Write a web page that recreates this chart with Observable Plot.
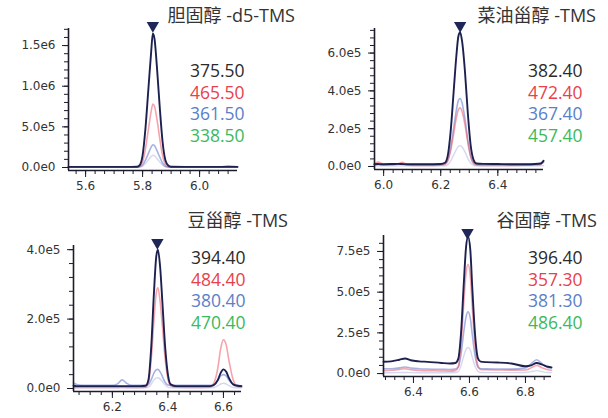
<!DOCTYPE html>
<html><head><meta charset="utf-8">
<script src="https://cdn.jsdelivr.net/npm/d3@7"></script>
<script src="https://cdn.jsdelivr.net/npm/@observablehq/plot@0.6"></script>
<style>
html,body{margin:0;padding:0;background:#fff;}
#root{position:relative;width:608px;height:418px;overflow:hidden;background:#fff;}
.panel{position:absolute;width:304px;height:209px;}
.title{position:absolute;font-family:"Open Sans","Noto Sans CJK SC",sans-serif;font-size:18px;line-height:20px;color:#333;white-space:nowrap;}
.legend{position:absolute;font-family:"Open Sans",sans-serif;font-size:17.5px;line-height:21.7px;white-space:nowrap;}
</style></head><body><div id="root"></div>
<script>
// ---------- data ----------
const titles = ["胆固醇 -d5-TMS", "菜油甾醇 -TMS", "豆甾醇 -TMS", "谷固醇 -TMS"];
const ions1 = ["375.50", "465.50", "361.50", "338.50"];
const ions2 = ["382.40", "472.40", "367.40", "457.40"];
const ions3 = ["394.40", "484.40", "380.40", "470.40"];
const ions4 = ["396.40", "357.30", "381.30", "486.40"];
const peakRT = [5.836, 6.268, 6.362, 6.593];

const xTicks1 = [5.6, 5.8, 6.0];
const xTicks2 = [6.0, 6.2, 6.4];
const xTicks3 = [6.2, 6.4, 6.6];
const xTicks4 = [6.4, 6.6, 6.8];
const yTicks1 = [0, 5e5, 1e6, 1.5e6];
const yTicks2 = [0, 2e5, 4e5, 6e5];
const yTicks3 = [0, 2e5, 4e5];
const yTicks4 = [0, 2.5e5, 5e5, 7.5e5];

// panel 1
const t1 = [5.54, 5.60, 5.70, 5.76, 5.78, 5.79, 5.80, 5.81, 5.82, 5.83, 5.836, 5.842, 5.85, 5.86, 5.87, 5.88, 5.89, 5.90, 5.95, 6.00, 6.05, 6.08, 6.10, 6.12, 6.133];
const k1 = [8e3, 8e3, 8e3, 8e3, 1e4, 3e4, 1.5e5, 4.8e5, 9.5e5, 1.42e6, 1.65e6, 1.58e6, 1.25e6, 7.5e5, 3.2e5, 9e4, 2.5e4, 1e4, 8e3, 8e3, 8e3, 8e3, 8e3, 8e3, 8e3];
const r1 = [3e3, 3e3, 3e3, 3e3, 5e3, 1.5e4, 7e4, 2.3e5, 4.6e5, 6.9e5, 7.8e5, 7.5e5, 6e5, 3.6e5, 1.5e5, 4e4, 1e4, 4e3, 3e3, 3e3, 3e3, 3e3, 3e3, 3e3, 3e3];
const b1 = [5e3, 5e3, 5e3, 5e3, 6e3, 1e4, 3e4, 9e4, 1.7e5, 2.5e5, 2.8e5, 2.7e5, 2.1e5, 1.3e5, 5.5e4, 1.6e4, 7e3, 5e3, 5e3, 5e3, 5e3, 8e3, 2e4, 1.5e4, 1e4];
const g1 = [2e3, 2e3, 2e3, 2e3, 3e3, 5e3, 1.6e4, 5e4, 9e4, 1.35e5, 1.5e5, 1.45e5, 1.1e5, 7e4, 3e4, 9e3, 4e3, 2e3, 2e3, 2e3, 2e3, 2e3, 2e3, 2e3, 2e3];

// panel 2
const t2 = [5.968, 5.98, 5.99, 6.00, 6.03, 6.05, 6.065, 6.08, 6.10, 6.15, 6.20, 6.215, 6.225, 6.235, 6.245, 6.255, 6.262, 6.268, 6.275, 6.285, 6.295, 6.305, 6.315, 6.325, 6.35, 6.40, 6.45, 6.50, 6.53, 6.55, 6.56];
const k2 = [1.2e4, 1.3e4, 1.2e4, 1.2e4, 1.3e4, 1.4e4, 1.3e4, 1.2e4, 1.2e4, 1.2e4, 1.3e4, 2e4, 6e4, 1.9e5, 3.9e5, 5.9e5, 6.9e5, 7.1e5, 6.6e5, 5e5, 2.8e5, 1.1e5, 3.5e4, 1.6e4, 1.4e4, 1.3e4, 1.2e4, 1.2e4, 1.3e4, 1.6e4, 3e4];
const r2 = [1.5e4, 2.3e4, 1.8e4, 1e4, 8e3, 1.2e4, 2.2e4, 1.2e4, 6e3, 6e3, 7e3, 1e4, 3e4, 8.5e4, 1.7e5, 2.6e5, 3e5, 3.1e5, 2.9e5, 2.2e5, 1.25e5, 5e4, 1.5e4, 7e3, 6e3, 6e3, 6e3, 7e3, 8e3, 1e4, 2.2e4];
const b2 = [1e4, 1.1e4, 1e4, 1e4, 1.1e4, 1.2e4, 1.1e4, 1e4, 1e4, 1e4, 1.1e4, 1.5e4, 3.5e4, 1e5, 2e5, 3e5, 3.5e5, 3.6e5, 3.35e5, 2.5e5, 1.4e5, 5.5e4, 2e4, 1.2e4, 1.1e4, 1e4, 1e4, 1e4, 1.1e4, 1.3e4, 2.5e4];
const g2 = [3e3, 3e3, 3e3, 3e3, 3e3, 3e3, 3e3, 3e3, 3e3, 3e3, 3e3, 4e3, 1e4, 3e4, 6e4, 9e4, 1.07e5, 1.1e5, 1.03e5, 7.7e4, 4.3e4, 1.7e4, 6e3, 3e3, 3e3, 3e3, 3e3, 3e3, 3e3, 3e3, 4e3];

// panel 3
const t3 = [6.06, 6.07, 6.08, 6.10, 6.15, 6.20, 6.22, 6.235, 6.25, 6.27, 6.30, 6.32, 6.33, 6.34, 6.35, 6.358, 6.364, 6.372, 6.38, 6.39, 6.40, 6.41, 6.43, 6.50, 6.55, 6.565, 6.58, 6.59, 6.60, 6.61, 6.62, 6.635, 6.65, 6.665];
const k3 = [8e3, 7e3, 7e3, 7e3, 7e3, 7e3, 7e3, 7e3, 7e3, 7e3, 7e3, 8e3, 2.5e4, 1.2e5, 2.8e5, 3.8e5, 4e5, 3.5e5, 2.5e5, 1.2e5, 4e4, 1.2e4, 7e3, 7e3, 7e3, 1e4, 2.5e4, 4.5e4, 5.5e4, 4.8e4, 3e4, 1.2e4, 8e3, 7e3];
const r3 = [3e3, 3e3, 3e3, 3e3, 3e3, 3e3, 3e3, 3e3, 3e3, 3e3, 3e3, 4e3, 1.8e4, 8.5e4, 2e5, 2.75e5, 2.9e5, 2.5e5, 1.8e5, 8.5e4, 2.8e4, 8e3, 4e3, 3e3, 4e3, 1.5e4, 6e4, 1.15e5, 1.4e5, 1.25e5, 8e4, 2.5e4, 6e3, 4e3];
const b3 = [1.6e4, 1.2e4, 1e4, 9e3, 9e3, 9e3, 1.4e4, 2.5e4, 1.6e4, 9e3, 9e3, 9e3, 1.2e4, 2.6e4, 4.5e4, 5.4e4, 5.5e4, 4.8e4, 3.5e4, 1.8e4, 1e4, 9e3, 9e3, 9e3, 9e3, 1.2e4, 2.4e4, 3.6e4, 4e4, 3.6e4, 2.4e4, 1.2e4, 9e3, 8e3];
const g3 = [2e3, 2e3, 2e3, 2e3, 2e3, 2e3, 2e3, 3e3, 2e3, 2e3, 2e3, 2e3, 4e3, 1.3e4, 2.5e4, 3e4, 3.1e4, 2.7e4, 2e4, 1e4, 4e3, 2e3, 2e3, 2e3, 2e3, 3e3, 8e3, 1.3e4, 1.5e4, 1.3e4, 8e3, 3e3, 2e3, 2e3];

// panel 4
const t4 = [6.293, 6.32, 6.35, 6.37, 6.39, 6.42, 6.45, 6.50, 6.53, 6.55, 6.56, 6.57, 6.58, 6.588, 6.595, 6.603, 6.61, 6.62, 6.63, 6.64, 6.66, 6.70, 6.75, 6.80, 6.82, 6.84, 6.86, 6.88, 6.893];
const k4 = [7.3e4, 7.5e4, 8.5e4, 9.3e4, 8.2e4, 7.5e4, 7.2e4, 6.5e4, 6.2e4, 6.5e4, 9e4, 2.5e5, 5.6e5, 7.8e5, 8.4e5, 7.6e5, 5.3e5, 2.4e5, 9.5e4, 7.3e4, 7e4, 6.8e4, 6.2e4, 4.5e4, 5e4, 6.5e4, 5.5e4, 4.2e4, 3.8e4];
const r4 = [1.8e4, 2e4, 2.6e4, 3e4, 2.4e4, 1.9e4, 1.8e4, 1.6e4, 1.5e4, 1.8e4, 4e4, 1.8e5, 4.4e5, 6.2e5, 6.7e5, 6e5, 4.1e5, 1.7e5, 5e4, 2.5e4, 2.3e4, 2.2e4, 2.1e4, 2.2e4, 3.5e4, 5e4, 3.5e4, 2.3e4, 2e4];
const b4 = [3e4, 3e4, 3.5e4, 4e4, 3.4e4, 3e4, 2.8e4, 2.6e4, 2.5e4, 2.8e4, 4e4, 1.2e5, 2.6e5, 3.5e5, 3.8e5, 3.4e5, 2.4e5, 1.1e5, 4e4, 3e4, 2.9e4, 2.8e4, 2.7e4, 3.5e4, 6e4, 8.5e4, 6e4, 3.8e4, 3.3e4];
const g4 = [5e3, 5e3, 6e3, 7e3, 6e3, 5e3, 5e3, 5e3, 5e3, 6e3, 1.2e4, 5e4, 1.1e5, 1.5e5, 1.6e5, 1.45e5, 1e5, 4.5e4, 1.5e4, 7e3, 6e3, 6e3, 6e3, 7e3, 1.2e4, 1.8e4, 1.2e4, 7e3, 6e3];

// ---------- styling / layout ----------
const legendColors = ["#2b2b2b", "#e8414b", "#5b80c8", "#3cb95c"];
const traceStyles = [
  {stroke: "#1d2150", strokeWidth: 1.9, strokeOpacity: 1},
  {stroke: "#ec5a66", strokeWidth: 1.6, strokeOpacity: 0.55},
  {stroke: "#6b7fd0", strokeWidth: 1.6, strokeOpacity: 0.6},
  {stroke: "#b9bfe6", strokeWidth: 1.4, strokeOpacity: 0.6}
];

const panels = [
  {left: 0, top: 0, m: [28, 67, 39, 68], xd: [5.54, 6.133], yd: [-3.7e4, 1.71e6], xt: xTicks1, yt: yTicks1, ys: 1e5, xs: 0.2 / 6, t: t1, s: [k1, r1, b1, g1], ions: ions1, lg: [190, 60], tr: [313, 5]},
  {left: 304, top: 0, m: [28, 65, 40, 70], xd: [5.968, 6.56], yd: [-1.6e4, 7.3e5], xt: xTicks2, yt: yTicks2, ys: 4e4, xs: 0.2 / 6, t: t2, s: [k2, r2, b2, g2], ions: ions2, lg: [528, 60], tr: [12, 5]},
  {left: 0, top: 209, m: [36, 63, 27, 73], xd: [6.06, 6.665], yd: [-8.6e3, 4.12e5], xt: xTicks3, yt: yTicks3, ys: 4e4, xs: 0.04, t: t3, s: [k3, r3, b3, g3], ions: ions3, lg: [191, 247], tr: [320, 210]},
  {left: 304, top: 209, m: [26, 57, 42, 79], xd: [6.293, 6.893], yd: [-1.8e4, 8.48e5], xt: xTicks4, yt: yTicks4, ys: 5e4, xs: 0.2 / 6, t: t4, s: [k4, r4, b4, g4], ions: ions4, lg: [528, 247], tr: [11, 210]}
];

const fmtE = d => {
  if (d === 0) return "0.0e0";
  const e = Math.floor(Math.log10(Math.abs(d)) + 1e-9);
  return (d / 10 ** e).toFixed(1) + "e" + e;
};
const steps = (a, b, step) => d3.range(Math.ceil(a / step - 1e-6), Math.floor(b / step + 1e-6) + 1).map(i => +(i * step).toFixed(6));
const axisColor = "#1c1c2c";

const root = document.getElementById("root");
panels.forEach((p, pi) => {
  const rows = [];
  p.s.forEach((vals, si) => vals.forEach((v, i) => rows.push({t: p.t[i], v, s: si})));
  const order = [3, 2, 1, 0];
  const lines = order.map(si => Plot.line(rows.filter(r => r.s === si), {x: "t", y: "v", curve: "monotone-x", ...traceStyles[si]}));
  const chart = Plot.plot({
    width: 304, height: 209,
    marginTop: p.m[0], marginRight: p.m[1], marginBottom: p.m[2], marginLeft: p.m[3],
    x: {domain: p.xd, label: null},
    y: {domain: p.yd, label: null},
    style: {fontFamily: "DejaVu Sans", fontSize: "12px", color: "#333", background: "transparent", overflow: "visible"},
    marks: [
      ...lines,
      Plot.ruleX([p.xd[0]], {stroke: axisColor, strokeWidth: 1.6}),
      Plot.ruleY([p.yd[0]], {stroke: axisColor, strokeWidth: 1.6}),
      Plot.axisY(steps(0, p.yd[1], p.ys), {tickSize: 4, stroke: axisColor, tickFormat: () => null, label: null}),
      Plot.axisY(p.yt, {tickSize: 6, tickPadding: 7, stroke: axisColor, fill: "#333", tickFormat: fmtE, label: null}),
      Plot.axisX(steps(p.xd[0], p.xd[1], p.xs), {tickSize: 4, stroke: axisColor, tickFormat: () => null, label: null}),
      Plot.axisX(p.xt, {tickSize: 7, tickPadding: 4, stroke: axisColor, fill: "#333", tickFormat: d => d.toFixed(1), label: null}),
      Plot.dot([{t: peakRT[pi], v: p.yd[1]}], {x: "t", y: "v", symbol: "triangle", r: 4.6, rotate: 180, dy: -3, fill: "#1f2759", stroke: "none"})
    ]
  });
  const div = document.createElement("div");
  div.className = "panel";
  div.style.left = p.left + "px";
  div.style.top = p.top + "px";
  div.appendChild(chart);
  root.appendChild(div);

  const title = document.createElement("div");
  title.className = "title";
  title.textContent = titles[pi];
  title.style.right = p.tr[0] + "px";
  title.style.top = p.tr[1] + "px";
  root.appendChild(title);

  const lg = document.createElement("div");
  lg.className = "legend";
  lg.style.left = p.lg[0] + "px";
  lg.style.top = p.lg[1] + "px";
  p.ions.forEach((txt, i) => {
    const d = document.createElement("div");
    d.textContent = txt;
    d.style.color = legendColors[i];
    lg.appendChild(d);
  });
  root.appendChild(lg);
});
</script>
</body></html>
